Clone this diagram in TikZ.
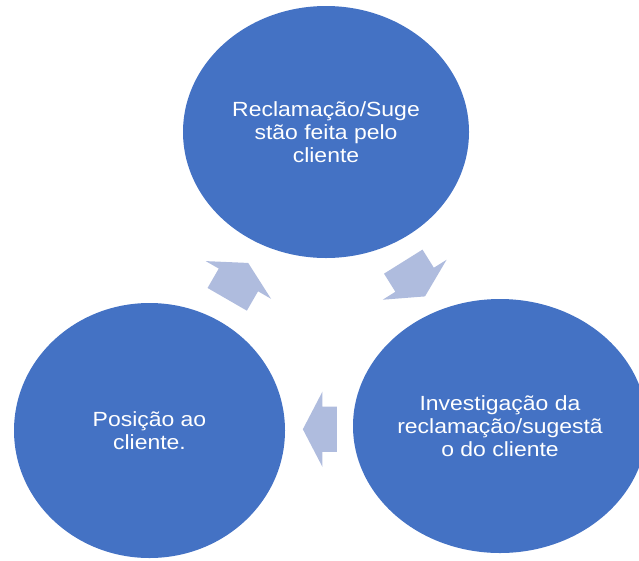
\documentclass[tikz,border=0pt]{standalone}
\usepackage{fontspec}
\newfontfamily\diagfont[FakeStretch=1.12]{Liberation Sans}
\usetikzlibrary{calc}
\usetikzlibrary{shapes.geometric, shapes.arrows}
\definecolor{stepblue}{RGB}{68,114,196}
\definecolor{arrowblue}{RGB}{175,188,222}

\begin{document}
\begin{tikzpicture}[x=1pt, y=-1pt,
    stage/.style={ellipse, fill=stepblue, inner sep=0pt, minimum width=286pt, minimum height=252pt,
      text=white, align=center, font=\diagfont\fontsize{20.5}{23}\selectfont},
    flow/.style={single arrow, fill=arrowblue, inner xsep=0pt, inner ysep=22.5pt,
      single arrow head extend=15pt, single arrow tip angle=125}]
      \useasboundingbox (0,0) rectangle (639,560);
      \clip (0,0) rectangle (639,560);

      \node[stage] (top) at (326,132) {Reclamação/Suge\\stão feita pelo\\cliente};
      \node[stage, minimum width=294pt, minimum height=254pt] (right) at (500,426) {Investigação da\\reclamação/sugestã\\o do cliente};
      \node[stage, minimum width=271pt, minimum height=255pt] (left) at (149.5,430.5) {Posição ao\\cliente.};

      \node[flow, minimum height=41pt, rotate=-58] (a1) at ($(top)!0.5!(right) + (-2,-5)$) {};
      \node[flow, minimum height=34pt, rotate=180] (a2) at ($(right)!0.5!(left) + (1,1)$) {};
      \node[flow, minimum height=42pt, rotate=60] (a3) at ($(left)!0.5!(top) + (-3,5)$) {};
    \end{tikzpicture}
\end{document}
